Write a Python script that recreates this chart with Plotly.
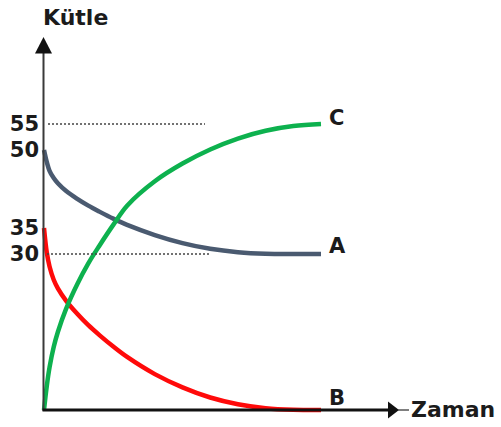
import plotly.graph_objects as go

# ---- data ----
time = [0, 0.1, 0.2, 0.35, 0.5, 0.8, 1.2, 1.6, 2, 2.5, 3, 4, 5, 6, 7, 8, 9, 10]
mass_A = [50, 47.7, 46.0, 44.6, 43.6, 42.1, 40.6, 39.3, 38.15, 36.8, 35.6, 33.65, 32.1, 31.0, 30.35, 30.05, 30.0, 30.0]
mass_B = [35, 30.3, 27.6, 25.05, 23.4, 21.0, 18.5, 16.3, 14.4, 12.2, 10.2, 6.9, 4.35, 2.4, 1.1, 0.35, 0.05, 0]
mass_C = [0, 4.6, 8.2, 12.1, 15.0, 19.5, 24.2, 28.2, 31.6, 35.6, 39.3, 44.0, 47.4, 50.1, 52.2, 53.7, 54.6, 55]
series_names = ["A", "B", "C"]
series_colors = ["#4a5a70", "#ff0a0a", "#0db14e"]
y_ticks = [55, 50, 35, 30]
ref_levels = [55, 30]
y_title = "Kütle"
x_title = "Zaman"

# ---- geometry ----
W, H = 501, 427
ML = 40
PX_PER_T = 27.7
PX_PER_V = 5.2
X0_PX, Y0_PX = 44, 410


def px(x):
    return (x - ML) / (W - ML)


def py(y):
    return (H - y) / H


xr = [(ML - X0_PX) / PX_PER_T, (W - X0_PX) / PX_PER_T]
yr = [(Y0_PX - H) / PX_PER_V, Y0_PX / PX_PER_V]

FONT = "DejaVu Sans"
TXT = "#1b1b1b"

fig = go.Figure()
for name, vals, col in zip(series_names, [mass_A, mass_B, mass_C], series_colors):
    fig.add_trace(go.Scatter(x=time, y=vals, mode="lines", name=name,
                             line=dict(color=col, width=4.5, shape="spline", smoothing=1.0),
                             showlegend=False, hoverinfo="skip"))

shapes = []
# reference dotted lines
for lvl, (a, b) in zip(ref_levels, [(48, 205), (47, 210)]):
    shapes.append(dict(type="line", xref="paper", yref="y", x0=px(a), x1=px(b), y0=lvl, y1=lvl,
                       line=dict(color="#444", width=1.5, dash="2px,2px")))
# y axis
shapes.append(dict(type="line", xref="paper", yref="paper", x0=px(43.5), x1=px(43.5),
                   y0=py(411), y1=py(52), line=dict(color="#3a3a3a", width=2)))
shapes.append(dict(type="path", xref="paper", yref="paper",
                   path=f"M {px(35)},{py(53.5)} L {px(52)},{py(53.5)} L {px(43.5)},{py(37)} Z",
                   fillcolor="#111", line=dict(width=0)))
# x axis
shapes.append(dict(type="line", xref="paper", yref="paper", x0=px(42.5), x1=px(391),
                   y0=py(410), y1=py(410), line=dict(color="#111", width=3)))
shapes.append(dict(type="path", xref="paper", yref="paper",
                   path=f"M {px(388)},{py(401.5)} L {px(388)},{py(418.5)} L {px(399)},{py(410)} Z",
                   fillcolor="#111", line=dict(width=0)))
shapes.append(dict(type="line", xref="paper", yref="paper", x0=px(398), x1=px(409),
                   y0=py(410), y1=py(410), line=dict(color="#555", width=1.5)))

annotations = [
    dict(text=y_title, xref="paper", yref="paper", x=px(75), y=py(17), showarrow=False,
         xanchor="center", yanchor="middle", font=dict(family=FONT, size=22, color=TXT, weight="bold")),
    dict(text=x_title, xref="paper", yref="paper", x=px(409), y=py(409), showarrow=False,
         xanchor="left", yanchor="middle", font=dict(family=FONT, size=22, color=TXT, weight="bold")),
]
for name, vals, dy in zip(series_names, [mass_A, mass_B, mass_C], [8, 12, 6]):
    annotations.append(dict(text=name, x=time[-1], y=vals[-1], xref="x", yref="y", showarrow=False,
                            xanchor="left", yanchor="middle", xshift=6, yshift=dy,
                            font=dict(family=FONT, size=21, color=TXT, weight="bold")))

fig.update_layout(
    width=W, height=H, margin=dict(l=ML, r=0, t=0, b=0, autoexpand=False),
    paper_bgcolor="white", plot_bgcolor="white",
    xaxis=dict(range=xr, visible=False, fixedrange=True, automargin=False),
    yaxis=dict(range=yr, showgrid=False, zeroline=False, showline=False, ticks="",
               automargin=False,
               tickvals=y_ticks, ticktext=[str(v) for v in y_ticks],
               tickfont=dict(family=FONT, size=21, color=TXT, weight="bold"), fixedrange=True),
    shapes=shapes, annotations=annotations,
)

fig.write_html("out.html", config={"displayModeBar": False},
               post_script="document.body.style.margin='0px';")
